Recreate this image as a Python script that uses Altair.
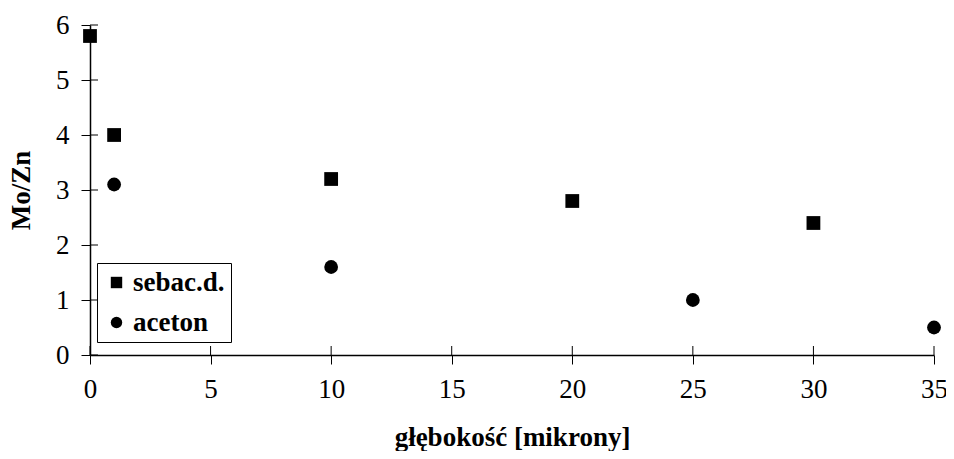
import altair as alt
import pandas as pd

series_names = ["sebac.d.", "aceton"]
sebac_x = [0, 1, 10, 20, 30]
sebac_y = [5.8, 4.0, 3.2, 2.8, 2.4]
aceton_x = [1, 10, 25, 35]
aceton_y = [3.1, 1.6, 1.0, 0.5]
x_ticks = [0, 5, 10, 15, 20, 25, 30, 35]
y_ticks = [0, 1, 2, 3, 4, 5, 6]

df = pd.DataFrame(
    {"x": sebac_x + aceton_x,
     "y": sebac_y + aceton_y,
     "s": [series_names[0]] * len(sebac_x) + [series_names[1]] * len(aceton_x)}
)

FONT = "Liberation Serif, Times New Roman, serif"
W, H = 844, 330
FS = 27

xs = alt.Scale(domain=[0, 35], nice=False, zero=False)
ys = alt.Scale(domain=[0, 6], nice=False, zero=False)

points = alt.Chart(df).mark_point(filled=True, opacity=1, color="black").encode(
    x=alt.X("x:Q", scale=xs, title="głębokość [mikrony]",
            axis=alt.Axis(values=x_ticks, format="d", grid=False, tickSize=9,
                          labelFlush=False, labelOverlap=False,
                          labelPadding=12, labelFont=FONT, labelFontSize=FS,
                          titleFont=FONT, titleFontSize=FS, titleFontWeight="bold",
                          titleBaseline="middle", titleY=82)),
    y=alt.Y("y:Q", scale=ys, title="Mo/Zn",
            axis=alt.Axis(values=y_ticks, format="d", grid=False, tickSize=9,
                          labelFlush=False, labelOverlap=False,
                          labelPadding=12, labelFont=FONT, labelFontSize=FS,
                          titleFont=FONT, titleFontSize=FS, titleFontWeight="bold",
                          titleBaseline="middle", titleAngle=270,
                          titleX=-69, titleY=H / 2)),
    shape=alt.Shape("s:N", scale=alt.Scale(domain=series_names, range=["square", "circle"]),
                    legend=alt.Legend(title=None, orient="none", legendX=7, legendY=238,
                                      strokeColor="black", fillColor="white",
                                      padding=6, labelFontSize=FS, labelFontWeight="bold",
                                      labelFont=FONT, symbolSize=130, symbolFillColor="black",
                                      symbolStrokeColor="black", rowPadding=12,
                                      labelOffset=3, symbolOffset=0)),
    size=alt.value(190),
)

xt = pd.DataFrame({"t": x_ticks})
yt = pd.DataFrame({"t": y_ticks})
xin = alt.Chart(xt).mark_rule(color="black", strokeWidth=1).encode(
    x=alt.X("t:Q", scale=xs), y=alt.value(H - 9), y2=alt.value(H))
yin = alt.Chart(yt).mark_rule(color="black", strokeWidth=1).encode(
    y=alt.Y("t:Q", scale=ys), x=alt.value(0), x2=alt.value(8))

chart = alt.layer(xin, yin, points).properties(
    width=W, height=H,
    autosize=alt.AutoSizeParams(type="none"),
    padding={"left": 82, "top": 17, "right": 12, "bottom": 96},
).configure_view(stroke=None).configure_axis(
    domainColor="black", tickColor="black", labelColor="black", titleColor="black",
    domainWidth=1.5, tickWidth=1,
)

chart.save("out.html", embed_options={"renderer": "svg", "actions": False})
